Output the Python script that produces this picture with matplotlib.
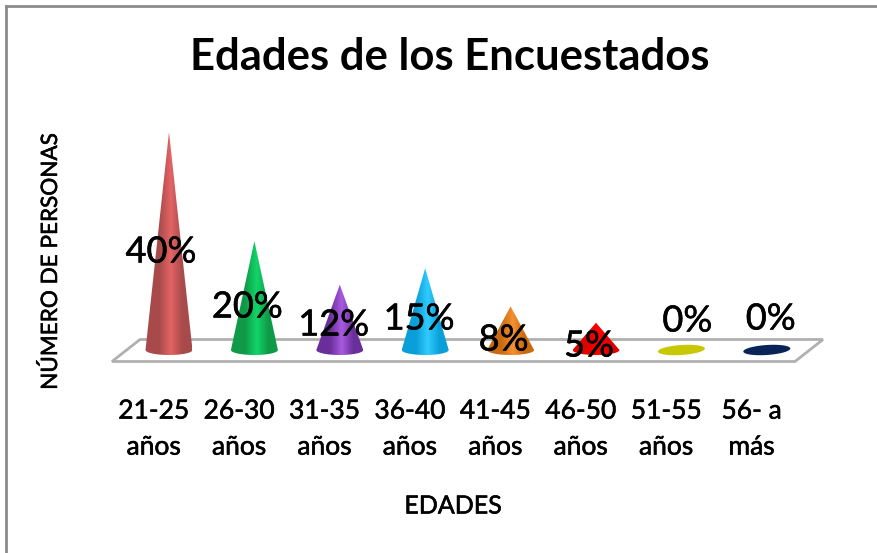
import numpy as np
import matplotlib
matplotlib.use("Agg")
import matplotlib.pyplot as plt
import matplotlib.patheffects as pe
from matplotlib.lines import Line2D
from matplotlib.patches import Polygon, PathPatch
from matplotlib.path import Path
from matplotlib.colors import LinearSegmentedColormap

categories = ["21-25\naños", "26-30\naños", "31-35\naños", "36-40\naños",
              "41-45\naños", "46-50\naños", "51-55\naños", "56- a\nmás"]
values = [40, 20, 12, 15, 8, 5, 0, 0]
labels = ["40%", "20%", "12%", "15%", "8%", "5%", "0%", "0%"]
dark = ["#a84a4a", "#0f9a48", "#6a2f9a", "#0a9fd8", "#c96a10", "#e00000", "#c8c800", "#0a2458"]
light = ["#e46464", "#12d468", "#a85ae0", "#30ccff", "#f59030", "#ff0000", "#c8c800", "#0a2458"]
# label centre offset from the category base, in pixels
label_offsets = [(-8, 98), (-7, 43), (-6, 25), (-6, 31), (-7, 10), (-7, 4), (6, 29), (4, 31)]

W, H = 878, 553
plt.rcParams["font.family"] = "Lato"
fig = plt.figure(figsize=(W / 100, H / 100), dpi=100, facecolor="white")

# Outer chart frame: only the top and left edges are visible
for xs, ys in [((6 / W, 6 / W), (0, 1 - 5.5 / H)), ((6 / W, 1), (1 - 5.5 / H, 1 - 5.5 / H))]:
    fig.add_artist(Line2D(xs, ys, color="#8c8c8c", lw=2, transform=fig.transFigure))

# Plot axes: one category = 85.4 px, one percent = 5.45 px, baseline at y = 350 px
L, R, T, B = 100, 840, 110, 375
ax = fig.add_axes([L / W, 1 - B / H, (R - L) / W, (B - T) / H])
ax.axis("off")

def px(x, y):
    return ((x - 169) / 85.4, (350 - y) / 5.45)

# Floor of the 3D plot
ax.add_patch(Polygon([px(112, 361.5), px(795, 361.5), px(823, 339.5), px(140, 339.5)],
                     closed=True, fc="white", ec="#b0b0b0", lw=2, zorder=1))

half_w = 23.5 / 85.4
rx, ry = half_w, 5 / 5.45
t_full = np.linspace(0, 2 * np.pi, 80)
slope = 1.5 / 5.45
for i, v in enumerate(values):
    if v > 0:
        cmap = LinearSegmentedColormap.from_list(
            "c", [(0, dark[i]), (0.3, dark[i]), (0.55, light[i]), (0.8, dark[i]), (1, dark[i])])
        grad = np.linspace(0, 1, 128).reshape(1, -1)
        t = np.linspace(np.pi, 2 * np.pi, 40)
        arc = np.c_[i + rx * np.cos(t), ry * np.sin(t)]
        verts = np.vstack([arc, [[i, v]], arc[:1]])
        codes = [Path.MOVETO] + [Path.LINETO] * (len(verts) - 2) + [Path.CLOSEPOLY]
        patch = PathPatch(Path(verts, codes), fc="none", ec="none")
        ax.add_patch(patch)
        im = ax.imshow(grad, cmap=cmap, aspect="auto", zorder=3,
                       extent=(i - rx, i + rx, -ry, v), interpolation="bilinear")
        im.set_clip_path(patch)
    else:
        ax.add_patch(Polygon(np.c_[i + rx * np.cos(t_full),
                                  ry * np.sin(t_full) + slope * np.cos(t_full)],
                             closed=True, fc=dark[i], ec="none", zorder=3))

ax.set_xlim((L - 169) / 85.4, (R - 169) / 85.4)
ax.set_ylim((350 - B) / 5.45, (350 - T) / 5.45)

stroke = [pe.withStroke(linewidth=0.4, foreground="black")]

# Data labels, placed relative to each category baseline
for i, lab in enumerate(labels):
    dx, dy = label_offsets[i]
    ax.annotate(lab, (i, 0), xytext=(dx * 0.72, dy * 0.72), textcoords="offset points",
                ha="center", va="center", fontsize=26, color="black", zorder=5,
                path_effects=stroke)

# Category labels sit left of the cones, as in the perspective of the 3D chart
for i, c in enumerate(categories):
    ax.annotate(c, (i, 0), xytext=(-11, -35), textcoords="offset points", ha="center", va="top",
                fontsize=19, color="black", linespacing=1.55, annotation_clip=False,
                path_effects=stroke)

fig.text(449.5 / W, 1 - 57 / H, "Edades de los Encuestados", ha="center", va="center",
         fontsize=31.4, fontweight="bold", color="black")
fig.text(453 / W, 1 - 506 / H, "EDADES", ha="center", va="center", fontsize=18, color="black",
         path_effects=stroke)
fig.text(51 / W, 1 - 262 / H, "NÚMERO DE PERSONAS", ha="center", va="center", rotation=90,
         fontsize=16.2, color="black", path_effects=stroke)

fig.savefig("out.png", dpi=100)
